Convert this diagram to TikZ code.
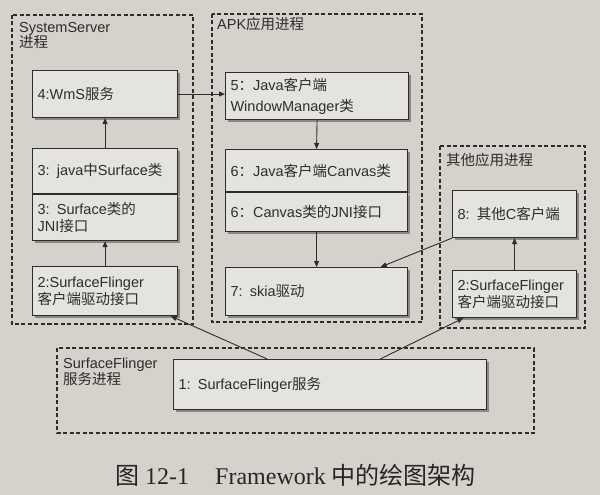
\documentclass[tikz,border=0pt]{standalone}
\usepackage{fontspec}
\setmainfont{Liberation Sans}
\newfontfamily\zhfont{Noto Sans CJK SC}
\newfontfamily\capfont{Liberation Serif}
\newcommand*{\zh}[1]{{\zhfont #1}}
\usetikzlibrary{arrows.meta,shadows,positioning,calc}
\definecolor{paper}{RGB}{213,209,203}
\definecolor{boxfill}{RGB}{229,227,223}
\definecolor{ink}{RGB}{45,45,45}

\begin{document}
\begin{tikzpicture}[
        x=1pt, y=-1pt,
        font=\fontsize{14.5}{17}\selectfont,
        text=ink,
        group/.style={draw=ink, line width=1.2pt, dash pattern=on 4pt off 2.5pt},
        group label/.style={anchor=north west, align=left, inner sep=0pt,
                font=\fontsize{14.5}{15}\selectfont},
        unit/.style={draw=ink, fill=boxfill, line width=1.1pt, anchor=north west,
                align=left, inner xsep=5pt, inner ysep=0pt,
                drop shadow={shadow xshift=2.5pt, shadow yshift=-2.5pt,
                        opacity=0.35, fill=black}},
        link/.style={draw=ink, line width=0.9pt, -{Triangle[length=6pt, width=5pt]}},
    ]
    \fill[paper] (0,0) rectangle (600,495);
    \useasboundingbox (0,0) rectangle (600,495);

    % process groups
    \draw[group] (12,15) rectangle (193,324);
    \draw[group] (212,14) rectangle (422,322);
    \draw[group] (440,146) rectangle (585,328);
    \draw[group] (57,348) rectangle (534,433);
    \node[group label] (sslabel) at (19,22.5) {SystemServer\\\zh{进程}};
    \node[group label] (apklabel) at (217,17.5) {APK\zh{应用进程}};
    \node[group label] (otherlabel) at (446,153.5) {\zh{其他应用进程}};
    \node[group label] (sflabel) at (63,357.5) {SurfaceFlinger\\\zh{服务进程}};

    % SystemServer
    \node[unit, text width=135pt, minimum height=47pt] (wms) at (32,70) {4:WmS\zh{服务}};
    \node[unit, text width=135pt, minimum height=45pt] (jsurf) at (32,148)
        {3: java\zh{中}Surface\zh{类}};
    \node[unit, text width=135pt, minimum height=46pt] (jnisurf) at (jsurf.south west)
        {3: Surface\zh{类的}\\JNI\zh{接口}};
    \node[unit, text width=135pt, minimum height=49pt] (sfclia) at (32,266)
        {2:SurfaceFlinger\\\zh{客户端驱动接口}};

    % APK
    \node[unit, text width=173pt, minimum height=47pt, font=\fontsize{14.5}{21}\selectfont]
        (wmgr) at (225,72) {5\zh{：}Java\zh{客户端}\\WindowManager\zh{类}};
    \node[unit, text width=172pt, minimum height=42pt] (jcanvas) at (225,149)
        {6\zh{：}Java\zh{客户端}Canvas\zh{类}};
    \node[unit, text width=172pt, minimum height=39pt] (jnicanvas) at (jcanvas.south west)
        {6\zh{：}Canvas\zh{类的}JNI\zh{接口}};
    \node[unit, text width=172pt, minimum height=48pt] (skia) at (225,267) {7: skia\zh{驱动}};

    % other apps
    \node[unit, text width=114pt, minimum height=47pt] (cclient) at (452,190)
        {8: \zh{其他}C\zh{客户端}};
    \node[unit, text width=114pt, minimum height=47pt] (sfclib) at (452,270)
        {2:SurfaceFlinger\\\zh{客户端驱动接口}};

    % SurfaceFlinger
    \node[unit, text width=303pt, minimum height=50pt] (sfsvc) at (173,359)
        {1: SurfaceFlinger\zh{服务}};

    % connectors
    \draw[link] (wms.east) -- (wms.east -| wmgr.west);
    \draw[link] (jsurf) -- (wms);
    \draw[link] (sfclia) -- (jnisurf);
    \draw[link] (wmgr.south) -- (jcanvas.north);
    \draw[link] (jnicanvas.south) -- (skia.north);
    \draw[link] (sfclib.north) -- (cclient.south);
    \draw[link] (cclient.south west) -- ($(skia.north west)!0.85!(skia.north east)$);
    \draw[link] ($(sfsvc.north west)!0.3!(sfsvc.north east)$)
        -- ($(sfclia.south west)!0.95!(sfclia.south east)$);
    \draw[link] ($(sfsvc.north west)!0.66!(sfsvc.north east)$)
        -- ($(sfclib.south west)!0.09!(sfclib.south east)$);

    % caption
    \node[anchor=base west, inner sep=0pt, font=\capfont\fontsize{24}{28}\selectfont,
        text=black!85] (caption) at (115,484)
        {\zh{图} 12-1\hspace{26pt}Framework \zh{中的绘图架构}};
\end{tikzpicture}
\end{document}
